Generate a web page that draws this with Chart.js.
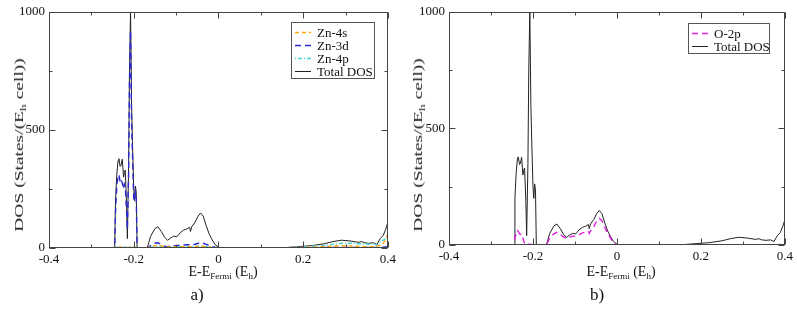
<!DOCTYPE html>
<html>
<head>
<meta charset="utf-8">
<script src="https://cdn.jsdelivr.net/npm/chart.js@4/dist/chart.umd.min.js"></script>
<style>
  body { margin: 0; background: #fff; }
  #wrap { position: relative; width: 797px; height: 313px; background: #fff; font-family: "Liberation Serif", "Times New Roman", serif; color: #111; }
  canvas { position: absolute; top: 0; }
  .xtitle { position: absolute; top: 264px; font-size: 14px; transform: translateX(-50%); white-space: nowrap; }
  .ytitle { position: absolute; top: 145px; font-size: 13px; color: #222; white-space: nowrap; transform: translate(-50%, -50%) rotate(-90deg) scaleX(1.5); }
  .panel { position: absolute; top: 285px; font-size: 17px; transform: translateX(-50%); }
  sub { font-size: 9px; vertical-align: -3px; line-height: 0; }
</style>
</head>
<body>
<div id="wrap">
  <canvas id="dosA" width="400" height="313" style="left:0"></canvas>
  <canvas id="dosB" width="397" height="313" style="left:400px"></canvas>
  <div class="ytitle" style="left:19px">DOS (States/(E<sub>h</sub> cell))</div>
  <div class="ytitle" style="left:418px">DOS (States/(E<sub>h</sub> cell))</div>
  <div class="xtitle" style="left:223px">E-E<sub>Fermi</sub> (E<sub>h</sub>)</div>
  <div class="xtitle" style="left:621px">E-E<sub>Fermi</sub> (E<sub>h</sub>)</div>
  <div class="panel" style="left:197px">a)</div>
  <div class="panel" style="left:597px">b)</div>
</div>
<script>
// energy grid (E - E_Fermi, hartree), shared by every curve
const energy = [
  -0.400, -0.245, -0.243, -0.240, -0.237, -0.235, -0.232, -0.230, -0.227, -0.224, -0.222, -0.220,
  -0.217, -0.215, -0.212, -0.210, -0.2075, -0.205, -0.203, -0.200, -0.198, -0.196, -0.194, -0.192,
  -0.168, -0.160, -0.150, -0.143, -0.135, -0.127, -0.120, -0.113, -0.106, -0.098, -0.090, -0.082,
  -0.075, -0.068, -0.066, -0.063, -0.055, -0.048, -0.042, -0.036, -0.029, -0.022, -0.015, -0.008,
  0.000, 0.002,
  0.100, 0.130, 0.160, 0.190, 0.220, 0.250, 0.270, 0.290, 0.310, 0.330, 0.338, 0.345,
  0.355, 0.366, 0.374, 0.382, 0.389, 0.395, 0.400
];

const totalDos = [
  0, 0, 200, 310, 370, 378, 345, 350, 376, 300, 320, 330,
  190, 40, 350, 750, 1000, 600, 450, 250, 200, 262, 235, 0,
  0, 50, 82, 90, 70, 45, 33, 42, 50, 48, 65, 76,
  80, 88, 70, 90, 110, 135, 148, 135, 95, 60, 35, 15,
  3, 0,
  0, 1, 2, 6, 10, 18, 27, 33, 30, 24, 27, 22,
  20, 22, 15, 40, 53, 80, 108
];

const zn4s = [
  0, 0, 2, 3, 4, 4, 3, 3, 3, 3, 3, 3,
  2, 1, 3, 5, 6, 4, 3, 2, 2, 2, 2, 0,
  0, 6, 10, 12, 9, 6, 4, 4, 5, 5, 5, 5,
  5, 5, 5, 5, 6, 7, 8, 7, 5, 4, 2, 1,
  0, 0,
  0, 0, 1, 2, 4, 6, 8, 10, 9, 7, 7, 6,
  6, 5, 8, 12, 20, 35, 60
];

const zn3d = [
  0, 0, 150, 260, 305, 310, 280, 290, 275, 250, 270, 260,
  160, 80, 320, 700, 920, 520, 400, 210, 200, 235, 215, 0,
  0, 10, 20, 22, 15, 8, 6, 8, 10, 10, 12, 13,
  14, 14, 12, 14, 16, 20, 22, 20, 15, 10, 6, 3,
  1, 0,
  0, 0, 1, 1, 1, 2, 2, 2, 2, 2, 2, 2,
  2, 2, 2, 3, 3, 4, 5
];

const zn4p = [
  0, 0, 2, 3, 3, 3, 3, 3, 3, 3, 3, 3,
  2, 1, 2, 4, 5, 4, 3, 2, 2, 2, 2, 0,
  0, 3, 5, 6, 5, 4, 4, 4, 5, 5, 6, 6,
  6, 6, 6, 6, 7, 8, 8, 7, 6, 4, 3, 1,
  0, 0,
  0, 0, 1, 4, 7, 11, 16, 20, 20, 18, 18, 17,
  16, 17, 12, 25, 33, 40, 45
];

const o2p = [
  0, 0, 30, 50, 62, 58, 48, 45, 47, 30, 15, 8,
  3, 1, 2, 3, 3, 2, 2, 1, 1, 1, 1, 0,
  0, 30, 48, 54, 45, 35, 28, 33, 38, 38, 45, 52,
  55, 58, 50, 60, 80, 103, 114, 105, 75, 50, 28, 10,
  2, 0,
  0, 0, 0, 0, 0, 0, 0, 0, 0, 0, 0, 0,
  0, 0, 0, 1, 2, 4, 8
];

const xTicks = [-0.4, -0.2, 0, 0.2, 0.4];
const yTicks = [0, 500, 1000];

Chart.defaults.font.family = '"Liberation Serif", "Times New Roman", serif';
Chart.defaults.font.size = 13;
Chart.defaults.color = '#111';

function points(values) {
  return energy.map((e, i) => ({ x: e, y: values[i] }));
}

function series(label, values, color, dash, width) {
  return {
    label: label,
    data: points(values),
    borderColor: color,
    borderDash: dash,
    borderWidth: width,
    pointRadius: 0,
    fill: false,
    tension: 0
  };
}

// frame on four sides, inward ticks (major + minor), legend box inside the plot
const gracePlot = {
  id: 'gracePlot',
  afterDatasetsDraw(chart, args, opts) {
    const { ctx, chartArea: a, scales: { x, y } } = chart;
    ctx.save();
    ctx.strokeStyle = '#444';
    ctx.lineWidth = 1;
    const L = Math.round(a.left) + 0.5, R = Math.round(a.right) - 0.5;
    const T = Math.round(a.top) + 0.5, B = Math.round(a.bottom) - 0.5;
    ctx.strokeRect(L, T, R - L, B - T);

    const tick = (px, len, vertical) => {
      ctx.beginPath();
      if (vertical) {
        ctx.moveTo(px, B); ctx.lineTo(px, B - len);
        ctx.moveTo(px, T); ctx.lineTo(px, T + len);
      } else {
        ctx.moveTo(L, px); ctx.lineTo(L + len, px);
        ctx.moveTo(R, px); ctx.lineTo(R - len, px);
      }
      ctx.stroke();
    };
    xTicks.forEach((v, i) => {
      tick(Math.round(x.getPixelForValue(v)) + 0.5, 6, true);
      if (i < xTicks.length - 1) tick(Math.round(x.getPixelForValue((v + xTicks[i + 1]) / 2)) + 0.5, 3, true);
    });
    yTicks.forEach((v, i) => {
      tick(Math.round(y.getPixelForValue(v)) + 0.5, 6, false);
      if (i < yTicks.length - 1) tick(Math.round(y.getPixelForValue((v + yTicks[i + 1]) / 2)) + 0.5, 3, false);
    });

    // legend
    const lg = opts.legend;
    const sets = chart.data.datasets;
    ctx.fillStyle = '#fff';
    ctx.fillRect(lg.left, lg.top, lg.width, lg.height);
    ctx.strokeStyle = '#555';
    ctx.lineWidth = 1;
    ctx.strokeRect(lg.left + 0.5, lg.top + 0.5, lg.width, lg.height);
    ctx.font = '13px "Liberation Serif", "Times New Roman", serif';
    ctx.textBaseline = 'middle';
    ctx.fillStyle = '#111';
    sets.forEach((ds, i) => {
      const ry = Math.round(lg.top + 10 + i * 13) + 0.5;
      ctx.save();
      ctx.strokeStyle = ds.borderColor;
      ctx.lineWidth = ds.borderWidth;
      ctx.setLineDash(ds.borderDash || []);
      ctx.beginPath();
      ctx.moveTo(lg.left + 4, ry);
      ctx.lineTo(lg.left + 20, ry);
      ctx.stroke();
      ctx.restore();
      ctx.fillText(ds.label, lg.left + 26, ry + 1);
    });
    ctx.restore();
  }
};

function makeChart(id, datasets, pad, axisH, legendBox) {
  return new Chart(document.getElementById(id), {
    type: 'line',
    data: { datasets: datasets },
    plugins: [gracePlot],
    options: {
      responsive: false,
      animation: false,
      layout: { padding: pad },
      plugins: {
        legend: { display: false },
        tooltip: { enabled: false },
        gracePlot: { legend: legendBox }
      },
      scales: {
        x: {
          type: 'linear',
          min: -0.4,
          max: 0.4,
          afterBuildTicks: s => { s.ticks = xTicks.map(v => ({ value: v })); },
          afterFit: s => { s.height = axisH; },
          ticks: { padding: 4, maxRotation: 0, autoSkip: false, callback: v => String(v) },
          grid: { display: false, drawTicks: false },
          border: { display: false }
        },
        y: {
          min: 0,
          max: 1000,
          afterBuildTicks: s => { s.ticks = yTicks.map(v => ({ value: v })); },
          afterFit: s => { s.width = 49; },
          ticks: { padding: 4, callback: v => String(v) },
          grid: { display: false, drawTicks: false },
          border: { display: false }
        }
      }
    }
  });
}

makeChart('dosA', [
  series('Zn-4s', zn4s, '#ffa500', [4, 3], 1.4),
  series('Zn-3d', zn3d, '#2a2ad0', [6, 4], 1.4),
  series('Zn-4p', zn4p, '#3fd8d8', [1, 2, 4, 2], 1.4),
  series('Total DOS', totalDos, '#222', [], 1)
], { top: 5, right: 4, left: 0, bottom: 0 }, 65, { left: 291, top: 22, width: 83, height: 56 });

makeChart('dosB', [
  series('O-2p', o2p, '#e01ee0', [6, 4], 1.4),
  series('Total DOS', totalDos, '#222', [], 1)
], { top: 5, right: 5, left: 0, bottom: 0 }, 68, { left: 288, top: 23, width: 81, height: 30 });
</script>
</body>
</html>
